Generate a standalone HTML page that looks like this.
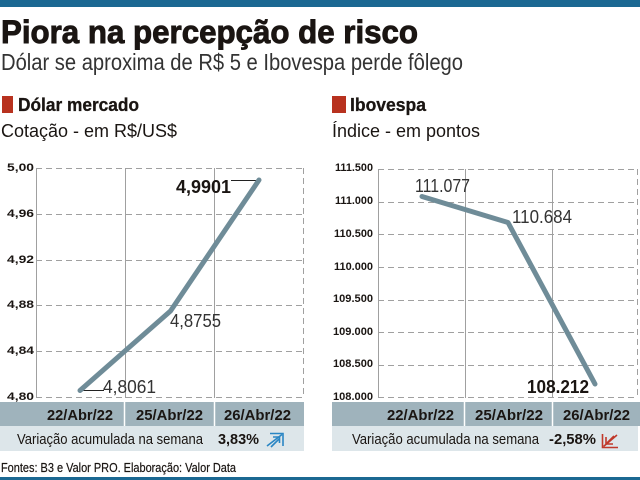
<!DOCTYPE html>
<html><head><meta charset="utf-8"><style>
html,body{margin:0;padding:0;background:#fff;}
svg{display:block;}
text{font-family:"Liberation Sans",sans-serif;}
</style></head><body>
<svg width="640" height="480" viewBox="0 0 640 480" xmlns="http://www.w3.org/2000/svg">
<rect x="0" y="0" width="640" height="7" fill="#1b6892"/>
<rect x="0" y="477" width="640" height="3" fill="#1b6892"/>

<text x="1" y="43" font-size="32" font-weight="bold" fill="#1a1512" stroke="#1a1512" stroke-width="0.9" textLength="417" lengthAdjust="spacingAndGlyphs">Piora na percepção de risco</text>
<text x="1" y="70" font-size="23" fill="#333" textLength="462" lengthAdjust="spacingAndGlyphs">Dólar se aproxima de R$ 5 e Ibovespa perde fôlego</text>

<rect x="2" y="96" width="11" height="17" fill="#b8321f"/>
<text x="18" y="111" font-size="18" font-weight="bold" fill="#1a1512" stroke="#1a1512" stroke-width="0.3" textLength="121" lengthAdjust="spacingAndGlyphs">Dólar mercado</text>
<text x="1" y="137" font-size="18" fill="#1a1512" textLength="176" lengthAdjust="spacingAndGlyphs">Cotação -  em R$/US$</text>

<rect x="332" y="96" width="14" height="17" fill="#b8321f"/>
<text x="350" y="111" font-size="18" font-weight="bold" fill="#1a1512" stroke="#1a1512" stroke-width="0.3" textLength="76" lengthAdjust="spacingAndGlyphs">Ibovespa</text>
<text x="332" y="137" font-size="18" fill="#1a1512" textLength="148" lengthAdjust="spacingAndGlyphs">Índice - em pontos</text>

<!-- LEFT CHART -->
<g stroke="#a0a0a0" stroke-width="1" fill="none">
  <g stroke-dasharray="6,4">
    <line x1="36" y1="168.5" x2="303" y2="168.5"/>
    <line x1="36" y1="214.5" x2="303" y2="214.5"/>
    <line x1="36" y1="260.5" x2="303" y2="260.5"/>
    <line x1="36" y1="305.5" x2="303" y2="305.5"/>
    <line x1="36" y1="351.5" x2="303" y2="351.5"/>
    <line x1="36" y1="397.5" x2="303" y2="397.5"/>
    <line x1="303.5" y1="168" x2="303.5" y2="398"/>
  </g>
  <line x1="36.5" y1="168" x2="36.5" y2="398"/>
  <line x1="125.5" y1="168" x2="125.5" y2="398"/>
  <line x1="214.5" y1="168" x2="214.5" y2="398"/>
</g>
<g font-size="11" font-weight="bold" fill="#1a1512">
  <text x="7" y="171" textLength="27" lengthAdjust="spacingAndGlyphs">5,00</text>
  <text x="7" y="217" textLength="27" lengthAdjust="spacingAndGlyphs">4,96</text>
  <text x="7" y="263" textLength="27" lengthAdjust="spacingAndGlyphs">4,92</text>
  <text x="7" y="308" textLength="27" lengthAdjust="spacingAndGlyphs">4,88</text>
  <text x="7" y="354" textLength="27" lengthAdjust="spacingAndGlyphs">4,84</text>
  <text x="7" y="400" textLength="27" lengthAdjust="spacingAndGlyphs">4,80</text>
</g>
<line x1="80" y1="390.5" x2="104" y2="390.5" stroke="#222" stroke-width="1"/>
<line x1="231" y1="180.5" x2="259" y2="180.5" stroke="#222" stroke-width="1"/>
<polyline points="80,390.5 170.5,311 259,180" fill="none" stroke="#6f8c98" stroke-width="5" stroke-linecap="round" stroke-linejoin="round"/>
<text x="103" y="393" font-size="18" fill="#333" textLength="53" lengthAdjust="spacingAndGlyphs">4,8061</text>
<text x="170" y="327" font-size="18" fill="#333" textLength="51" lengthAdjust="spacingAndGlyphs">4,8755</text>
<text x="176" y="193" font-size="18" font-weight="bold" fill="#1a1512" textLength="55" lengthAdjust="spacingAndGlyphs">4,9901</text>

<rect x="0" y="402" width="304" height="24" fill="#9fb3bc"/>
<rect x="0" y="426" width="304" height="25" fill="#dde6ea"/>
<line x1="124.5" y1="402" x2="124.5" y2="426" stroke="#fff" stroke-width="1.5"/>
<line x1="214.5" y1="402" x2="214.5" y2="426" stroke="#fff" stroke-width="1.5"/>
<g font-size="15" font-weight="bold" fill="#1a1512">
  <text x="47" y="420" textLength="66" lengthAdjust="spacingAndGlyphs">22/Abr/22</text>
  <text x="136" y="420" textLength="67" lengthAdjust="spacingAndGlyphs">25/Abr/22</text>
  <text x="224" y="420" textLength="67" lengthAdjust="spacingAndGlyphs">26/Abr/22</text>
</g>
<text x="17" y="444" font-size="15" fill="#1a1512" textLength="186" lengthAdjust="spacingAndGlyphs">Variação acumulada na semana</text>
<text x="218" y="444" font-size="15" font-weight="bold" fill="#1a1512" textLength="41" lengthAdjust="spacingAndGlyphs">3,83%</text>
<g stroke="#2a86c4" stroke-width="1.6" fill="none">
  <polyline points="270,433.5 283,433.5 283,446"/>
  <polyline points="273,437 279.5,437 279.5,443"/>
  <line x1="267" y1="446" x2="282" y2="434.5"/>
  <line x1="271" y1="447" x2="279" y2="439"/>
</g>

<!-- RIGHT CHART -->
<g stroke="#a0a0a0" stroke-width="1" fill="none">
  <g stroke-dasharray="6,4">
    <line x1="378" y1="169.5" x2="638" y2="169.5"/>
    <line x1="378" y1="202.5" x2="638" y2="202.5"/>
    <line x1="378" y1="234.5" x2="638" y2="234.5"/>
    <line x1="378" y1="267.5" x2="638" y2="267.5"/>
    <line x1="378" y1="300.5" x2="638" y2="300.5"/>
    <line x1="378" y1="332.5" x2="638" y2="332.5"/>
    <line x1="378" y1="365.5" x2="638" y2="365.5"/>
    <line x1="378" y1="397.5" x2="638" y2="397.5"/>
    <line x1="637.5" y1="169" x2="637.5" y2="398"/>
  </g>
  <line x1="378.5" y1="169" x2="378.5" y2="398"/>
  <line x1="465.5" y1="169" x2="465.5" y2="398"/>
  <line x1="552.5" y1="169" x2="552.5" y2="398"/>
</g>
<g font-size="11" font-weight="bold" fill="#1a1512">
  <text x="335" y="171" textLength="38" lengthAdjust="spacingAndGlyphs">111.500</text>
  <text x="335" y="204" textLength="38" lengthAdjust="spacingAndGlyphs">111.000</text>
  <text x="334" y="237" textLength="39" lengthAdjust="spacingAndGlyphs">110.500</text>
  <text x="334" y="270" textLength="39" lengthAdjust="spacingAndGlyphs">110.000</text>
  <text x="333" y="302" textLength="40" lengthAdjust="spacingAndGlyphs">109.500</text>
  <text x="333" y="335" textLength="40" lengthAdjust="spacingAndGlyphs">109.000</text>
  <text x="333" y="367" textLength="40" lengthAdjust="spacingAndGlyphs">108.500</text>
  <text x="333" y="400" textLength="40" lengthAdjust="spacingAndGlyphs">108.000</text>
</g>
<polyline points="422,196.5 508,222.5 595,384" fill="none" stroke="#6f8c98" stroke-width="5" stroke-linecap="round" stroke-linejoin="round"/>
<text x="415" y="192" font-size="18" fill="#333" textLength="55" lengthAdjust="spacingAndGlyphs">111.077</text>
<text x="512" y="223" font-size="18" fill="#333" textLength="60" lengthAdjust="spacingAndGlyphs">110.684</text>
<text x="527" y="393" font-size="18" font-weight="bold" fill="#1a1512" textLength="62" lengthAdjust="spacingAndGlyphs">108.212</text>

<rect x="332" y="402" width="308" height="24" fill="#9fb3bc"/>
<rect x="332" y="426" width="306" height="25" fill="#dde6ea"/>
<line x1="464.5" y1="402" x2="464.5" y2="426" stroke="#fff" stroke-width="1.5"/>
<line x1="552.5" y1="402" x2="552.5" y2="426" stroke="#fff" stroke-width="1.5"/>
<g font-size="15" font-weight="bold" fill="#1a1512">
  <text x="387" y="420" textLength="67" lengthAdjust="spacingAndGlyphs">22/Abr/22</text>
  <text x="475" y="420" textLength="68" lengthAdjust="spacingAndGlyphs">25/Abr/22</text>
  <text x="563" y="420" textLength="67" lengthAdjust="spacingAndGlyphs">26/Abr/22</text>
</g>
<text x="352" y="444" font-size="15" fill="#1a1512" textLength="187" lengthAdjust="spacingAndGlyphs">Variação acumulada na semana</text>
<text x="549" y="444" font-size="15" font-weight="bold" fill="#1a1512" textLength="47" lengthAdjust="spacingAndGlyphs">-2,58%</text>
<g stroke="#c0392b" stroke-width="1.6" fill="none">
  <polyline points="602.5,434 602.5,447.5 618,447.5"/>
  <polyline points="606,437 606,444 613,444"/>
  <line x1="603.5" y1="446.5" x2="617" y2="435"/>
  <line x1="607" y1="443" x2="614" y2="436"/>
</g>

<text x="1" y="472" font-size="12.5" fill="#1a1512" stroke="#1a1512" stroke-width="0.2" textLength="235" lengthAdjust="spacingAndGlyphs">Fontes: B3 e Valor PRO. Elaboração: Valor Data</text>
</svg>
</body></html>
